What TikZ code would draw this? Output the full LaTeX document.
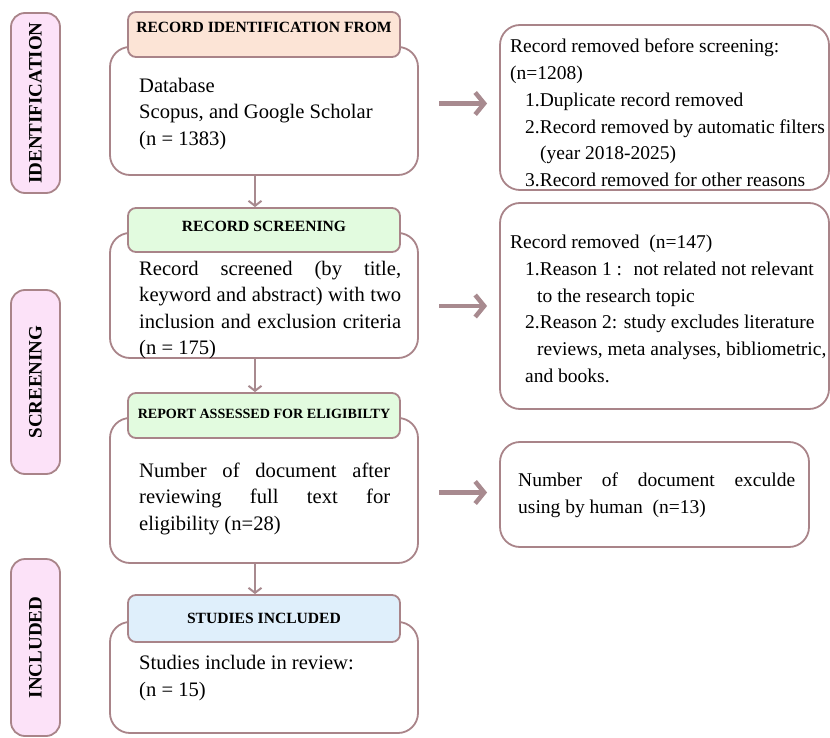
\documentclass[tikz,border=0pt]{standalone}
\usepackage{fontspec}
\setmainfont{Liberation Serif}
\usepackage{tikz}
\usetikzlibrary{arrows.meta}

\definecolor{edgemauve}{HTML}{A98489}
\definecolor{arrowmauve}{HTML}{A88A8F}
\definecolor{stagepink}{HTML}{FCE2F8}
\definecolor{headpeach}{HTML}{FCE4D6}
\definecolor{headgreen}{HTML}{E2FBDF}
\definecolor{headblue}{HTML}{DFEFFB}

\begin{document}
\begin{tikzpicture}[
  x=1pt, y=-1pt,
  stage/.style={draw=edgemauve, line width=1.8pt, fill=stagepink, rounded corners=14pt,
    rotate=90, minimum height=49pt, inner sep=0pt, font=\fontsize{19}{22}\selectfont\bfseries},
  body/.style={draw=edgemauve, line width=1.8pt, fill=white, rounded corners=20pt,
    minimum width=308pt, inner sep=0pt},
  head/.style={draw=edgemauve, line width=1.8pt, rounded corners=8pt, minimum width=272pt,
    inner sep=0pt, font=\fontsize{15.6}{18}\selectfont\bfseries},
  removed/.style={draw=edgemauve, line width=1.8pt, fill=white, rounded corners=20pt, inner sep=0pt},
  txt/.style={inner sep=0pt, anchor=west, font=\fontsize{20.6}{26.5}\selectfont},
  remtxt/.style={inner sep=0pt, anchor=west, align=left, font=\fontsize{19.5}{26.7}\selectfont},
  down/.style={draw=arrowmauve, line width=2pt, -{Straight Barb[length=5pt,width=13pt]}},
  side/.style={draw=arrowmauve, line width=4.5pt, -{Straight Barb[length=9pt,width=22pt]}}
]
\useasboundingbox (0,0) rectangle (830,738);

% stages on the left
\node[stage, minimum width=180pt] (ident) at (35.5,103) {IDENTIFICATION};
\node[stage, minimum width=184pt] (screen) at (35.5,382) {SCREENING};
\node[stage, minimum width=177pt] (incl) at (35.5,647.5) {INCLUDED};

% main column
\node[body, minimum height=128pt] (body1) at (264,111) {};
\node[body, minimum height=125pt] (body2) at (264,295.5) {};
\node[body, minimum height=145pt] (body3) at (264,490.5) {};
\node[body, minimum height=111pt] (body4) at (264,677.5) {};

\node[head, fill=headpeach, minimum height=45pt, text depth=14pt] (head1) at (264,34.5) {RECORD IDENTIFICATION FROM};
\node[head, fill=headgreen, minimum height=44pt, text depth=7pt] (head2) at (264,230) {RECORD SCREENING};
\node[head, fill=headgreen, minimum height=45pt, text depth=4pt, font=\fontsize{14.1}{17}\selectfont\bfseries]
  (head3) at (264,415.5) {REPORT ASSESSED FOR ELIGIBILTY};
\node[head, fill=headblue, minimum height=47pt] (head4) at (264,618.5) {STUDIES INCLUDED};

\node[txt, align=left] (text1) at (139,114) {Database\\Scopus, and Google Scholar\\(n = 1383)};
\node[txt, align=justify, text width=262pt] (text2) at (139,310)
  {Record screened (by title,\linebreak keyword and abstract) with two\linebreak
   inclusion and exclusion criteria\linebreak (n = 175)};
\node[txt, align=justify, text width=251pt] (text3) at (139,498.5)
  {Number of document after\linebreak reviewing full text for\linebreak eligibility (n=28)};
\node[txt, align=left] (text4) at (139,678) {Studies include in review:\\(n = 15)};

% removed records
\node[removed, minimum width=329pt, minimum height=165pt] (rem1) at (664.5,107.5) {};
\node[removed, minimum width=329pt, minimum height=206pt] (rem2) at (664.5,306) {};
\node[removed, minimum width=309pt, minimum height=105pt] (rem3) at (654.5,494.5) {};

\node[remtxt] (remtext1) at (510,113) {Record removed before screening:\\(n=1208)\\
  \hspace*{15pt}1.Duplicate record removed\\
  \hspace*{15pt}2.\makebox[285pt][s]{Record removed by automatic filters}\\
  \hspace*{30pt}(year 2018-2025)\\
  \hspace*{15pt}3.Record removed for other reasons};
\node[remtxt] (remtext2) at (510,309) {Record removed~ (n=147)\\
  \hspace*{15pt}1.Reason 1 :~ not related not relevant\\
  \hspace*{27pt}to the research topic\\
  \hspace*{15pt}2.Reason 2: study excludes literature\\
  \hspace*{27pt}reviews, meta analyses, bibliometric,\\
  \hspace*{15pt}and books.};
\node[remtxt, align=justify, text width=277pt] (remtext3) at (518,495.5)
  {Number of document exculde\linebreak using by human~ (n=13)};

% arrows
\draw[down] ([xshift=-9pt]body1.south) -- ([xshift=-9pt]head2.north);
\draw[down] ([xshift=-9pt]body2.south) -- ([xshift=-9pt]head3.north);
\draw[down] ([xshift=-9pt]body3.south) -- ([xshift=-9pt]head4.north);
\draw[side] ([xshift=-60pt,yshift=4pt]rem1.west) -- ([xshift=-12pt,yshift=4pt]rem1.west);
\draw[side] ([xshift=-60pt]rem2.west) -- ([xshift=-12pt]rem2.west);
\draw[side] ([xshift=-60pt,yshift=2pt]rem3.west) -- ([xshift=-12pt,yshift=2pt]rem3.west);
\end{tikzpicture}
\end{document}
